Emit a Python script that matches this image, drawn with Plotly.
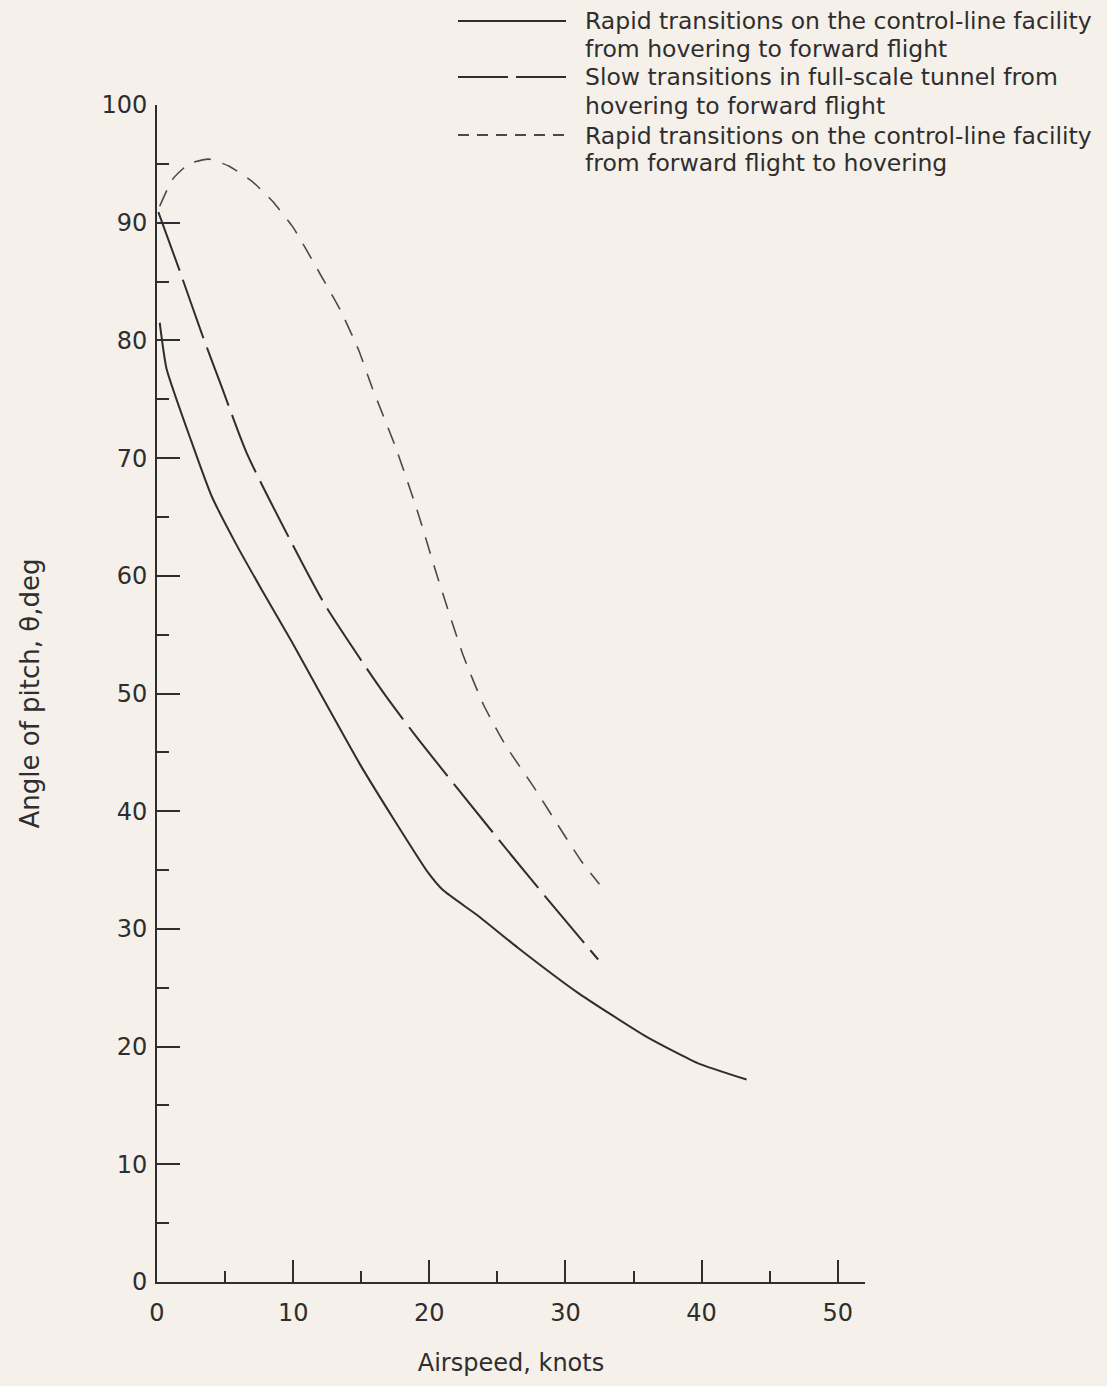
import plotly.graph_objects as go

# ---- data ----
rapid_fwd_x = [0.2, 0.7, 2.5, 4.0, 5.9, 7.7, 9.9, 12.0, 14.9, 17.4, 19.9, 21.0, 23.6, 26.5, 31.0, 36.0, 39.7, 43.3]
rapid_fwd_y = [81.5, 77.6, 71.5, 66.8, 62.5, 58.8, 54.4, 50.0, 44.0, 39.3, 34.8, 33.3, 31.1, 28.4, 24.5, 20.8, 18.6, 17.2]

slow_tunnel_x = [0.1, 1.7, 3.25, 4.8, 6.6, 9.8, 12.3, 15.3, 16.8, 19.0, 22.3, 26.0, 29.2, 32.4]
slow_tunnel_y = [90.9, 85.8, 80.7, 75.9, 70.4, 63.0, 57.6, 52.3, 49.8, 46.4, 41.6, 36.3, 31.8, 27.4]

rapid_back_x = [0.2, 1.15, 2.35, 3.8, 5.3, 7.0, 8.5, 10.0, 12.0, 13.5, 14.8, 15.8, 17.5, 19.1, 20.6, 22.5, 24.0, 25.6, 27.7, 29.9, 31.2, 32.5]
rapid_back_y = [91.4, 93.7, 95.0, 95.4, 94.8, 93.5, 91.8, 89.6, 85.6, 82.5, 79.2, 76.0, 71.0, 65.6, 59.9, 53.2, 49.0, 45.6, 42.0, 38.0, 35.7, 33.8]

x_ticks = [0, 10, 20, 30, 40, 50]
y_ticks = [0, 10, 20, 30, 40, 50, 60, 70, 80, 90, 100]

legend_lines = [
    ["Rapid transitions on the control-line facility", "from hovering to forward flight"],
    ["Slow transitions in full-scale tunnel from", "hovering to forward flight"],
    ["Rapid transitions on the control-line facility", "from forward flight to hovering"],
]

# ---- styling ----
BG = "#f5f0e9"
INK = "#2e2e2e"
W_PAGE, H_PAGE = 1107, 1386
L, T = 157, 105
PW, PH = 708, 1177
R = W_PAGE - L - PW
B = H_PAGE - T - PH

fig = go.Figure()
fig.add_trace(go.Scatter(x=rapid_fwd_x, y=rapid_fwd_y, mode="lines",
                         line=dict(color=INK, width=2, shape="spline", smoothing=0.5),
                         showlegend=False))
fig.add_trace(go.Scatter(x=slow_tunnel_x, y=slow_tunnel_y, mode="lines",
                         line=dict(color=INK, width=2, dash="62px,10px", shape="spline", smoothing=0.7),
                         showlegend=False))
fig.add_trace(go.Scatter(x=rapid_back_x, y=rapid_back_y, mode="lines",
                         line=dict(color="#4a4a4a", width=1.6, dash="17px,12px", shape="spline", smoothing=0.5),
                         showlegend=False))

# ---- hand-drawn style legend (paper coords from pixel positions) ----
def px(xp):
    return (xp - L) / PW

def py(yp):
    return (H_PAGE - B - yp) / PH

samples = [
    dict(y=21, dash="solid", width=2, color=INK),
    dict(y=77, dash="50px,8px", width=2, color=INK),
    dict(y=135, dash="11px,8px", width=1.8, color="#4a4a4a"),
]
text_y = [(21, 49), (77, 106), (136, 163)]
for s in samples:
    fig.add_shape(type="line", xref="paper", yref="paper",
                  x0=px(458), x1=px(566), y0=py(s["y"]), y1=py(s["y"]),
                  line=dict(color=s["color"], width=s["width"], dash=s["dash"]))
for (l1, l2), (y1, y2) in zip(legend_lines, text_y):
    for txt, yy in ((l1, y1), (l2, y2)):
        fig.add_annotation(xref="paper", yref="paper", x=px(583), y=py(yy),
                           text=txt, showarrow=False, xanchor="left", yanchor="middle",
                           font=dict(family="DejaVu Sans", size=23.5, color=INK))

fig.update_layout(
    width=W_PAGE, height=H_PAGE,
    margin=dict(l=L, r=R, t=T, b=B, pad=0),
    paper_bgcolor=BG, plot_bgcolor=BG,
    font=dict(family="DejaVu Sans", size=24, color=INK),
    showlegend=False,
)
fig.update_xaxes(
    range=[0, 52], tickvals=x_ticks, ticktext=[str(v) for v in x_ticks],
    showgrid=False, zeroline=False, showline=True, linecolor=INK, linewidth=2,
    ticks="inside", ticklen=22, tickwidth=2, tickcolor=INK,
    minor=dict(tickvals=[5, 15, 25, 35, 45], ticks="inside", ticklen=11, tickwidth=2, tickcolor=INK),
    tickfont=dict(family="DejaVu Sans", size=24, color=INK),
    ticklabelstandoff=8,
    title=dict(text="Airspeed, knots", font=dict(family="DejaVu Sans", size=24, color=INK), standoff=28),
)
fig.update_yaxes(
    range=[0, 100], tickvals=y_ticks, ticktext=[str(v) for v in y_ticks],
    showgrid=False, zeroline=False, showline=True, linecolor=INK, linewidth=2,
    ticks="inside", ticklen=23, tickwidth=2, tickcolor=INK,
    minor=dict(tickvals=[5, 15, 25, 35, 45, 55, 65, 75, 85, 95], ticks="inside", ticklen=12, tickwidth=2, tickcolor=INK),
    tickfont=dict(family="DejaVu Sans", size=24, color=INK),
    ticklabelstandoff=3,
    title=dict(text="Angle of pitch, θ,deg", font=dict(family="DejaVu Sans", size=26, color=INK), standoff=54),
)

fig.write_html(
    "out.html",
    config={"displayModeBar": False},
    post_script="document.body.style.margin='0';document.body.style.background='%s';" % BG,
)
